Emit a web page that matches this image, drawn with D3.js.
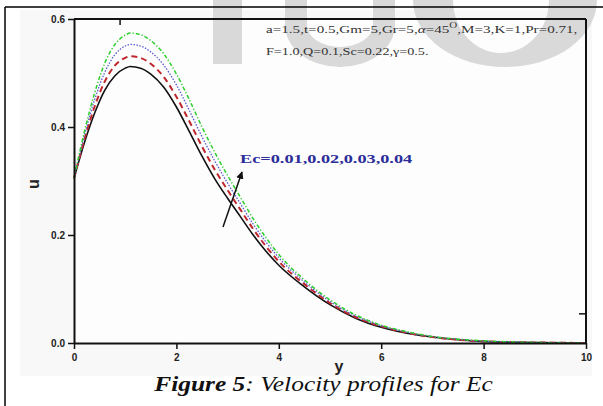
<!DOCTYPE html>
<html>
<head>
<meta charset="utf-8">
<script src="https://cdn.jsdelivr.net/npm/d3@7"></script>
<style>
  body{margin:0;background:#fff;}
  svg{display:block;}
</style>
</head>
<body>
<svg id="chart" width="603" height="406"></svg>
<script>
// values
const yPts=[0,0.2,0.4,0.6,0.8,1.0,1.1,1.3,1.5,1.75,2.0,2.25,2.5,2.75,3.0,3.25,3.5,3.75,4.0,4.5,5.0,5.5,6.0,6.5,7.0,7.5,8.0,9.0,10];
const uEc001=[0.305,0.370,0.425,0.468,0.495,0.509,0.512,0.509,0.498,0.474,0.437,0.392,0.346,0.304,0.268,0.234,0.200,0.170,0.144,0.104,0.071,0.046,0.029,0.018,0.011,0.006,0.003,0.001,0.000];
const uEc002=[0.305,0.376,0.437,0.484,0.514,0.528,0.531,0.528,0.517,0.493,0.456,0.411,0.364,0.321,0.283,0.247,0.211,0.179,0.151,0.109,0.074,0.048,0.031,0.019,0.011,0.006,0.003,0.001,0.000];
const uEc003=[0.305,0.383,0.450,0.501,0.534,0.550,0.553,0.550,0.539,0.515,0.478,0.431,0.382,0.337,0.296,0.258,0.220,0.187,0.158,0.113,0.077,0.050,0.032,0.020,0.012,0.007,0.003,0.001,0.000];
const uEc004=[0.305,0.390,0.462,0.518,0.553,0.570,0.574,0.571,0.560,0.536,0.498,0.451,0.400,0.353,0.310,0.270,0.230,0.195,0.164,0.117,0.080,0.052,0.033,0.021,0.012,0.007,0.004,0.001,0.000];
const xTicks=[0,2,4,6,8,10];
const yTicks=[0.0,0.2,0.4,0.6];

const series=[
  {vals:uEc001,color:"#111",width:1.6,dash:null},
  {vals:uEc002,color:"#c0272d",width:2,dash:"6,4"},
  {vals:uEc003,color:"#5b5bd0",width:1.3,dash:"1.5,1.5"},
  {vals:uEc004,color:"#2ccf2c",width:1.5,dash:"4,2,1.2,2"}
];

const svg=d3.select("#chart");
const x=d3.scaleLinear().domain([0,10]).range([74,586]);
const y=d3.scaleLinear().domain([0,0.6]).range([343,19]);

// stretch a text element to span a given width
function fitText(t,x0,w){
  const bb=t.node().getBBox();
  t.attr("transform",`translate(${x0},0) scale(${w/bb.width},1) translate(${-bb.x},0)`);
}

// faint page behind the figure
svg.append("rect").attr("x",20).attr("y",10).attr("width",572).attr("height",366).attr("fill","#f8f8f8");
svg.append("rect").attr("x",x(0)).attr("y",y(0.6)).attr("width",x(10)-x(0)).attr("height",y(0)-y(0.6)).attr("fill","#fdfdfd");

// watermark
const wm=svg.append("g").attr("fill","#d9d9d9");
wm.append("rect").attr("x",213).attr("y",0).attr("width",29).attr("height",64);
wm.append("path").attr("d","M285,0 V25 A55,42 0 0 0 395,25 V0 H373 V25 A33,22 0 0 1 307,25 V0 Z");
wm.append("path").attr("fill-rule","evenodd")
  .attr("d","M413,0 A92,67 0 0 0 597,0 Z M453,0 A48,53 0 0 0 549,0 Z");

// curves
const line=d3.line().x((d,i)=>x(yPts[i])).y(d=>y(d)).curve(d3.curveMonotoneX);
series.forEach(s=>{
  svg.append("path").datum(s.vals).attr("d",line).attr("fill","none")
    .attr("stroke",s.color).attr("stroke-width",s.width)
    .attr("stroke-dasharray",s.dash);
});

// axes
const font="'Liberation Sans', Arial, sans-serif";
const gx=svg.append("g").attr("transform",`translate(0,${y(0)})`)
  .call(d3.axisBottom(x).tickValues(xTicks).tickSize(6).tickSizeOuter(0).tickFormat(d3.format("d")));
const gy=svg.append("g").attr("transform",`translate(${x(0)},0)`)
  .call(d3.axisLeft(y).tickValues(yTicks).tickSize(6).tickSizeOuter(0).tickFormat(d3.format(".1f")));
[gx,gy].forEach(g=>{
  g.select(".domain").attr("stroke","#111").attr("stroke-width",2);
  g.selectAll(".tick line").attr("stroke","#111").attr("stroke-width",1.5);
  g.selectAll(".tick text").attr("font-family",font).attr("font-weight","bold")
    .attr("font-size",10).attr("fill","#222");
});
gx.selectAll(".tick text").attr("dy","0.85em");
svg.append("line").attr("x1",x(0)).attr("y1",y(0.6)).attr("x2",x(10)).attr("y2",y(0.6)).attr("stroke","#111").attr("stroke-width",2);
svg.append("line").attr("x1",x(10)).attr("y1",y(0.6)).attr("x2",x(10)).attr("y2",y(0)).attr("stroke","#111").attr("stroke-width",2);
// stray ticks on top and right
svg.append("line").attr("x1",x(0.9)).attr("y1",y(0.6)).attr("x2",x(0.9)).attr("y2",y(0.6)+6).attr("stroke","#111").attr("stroke-width",1.5);
svg.append("line").attr("x1",x(10)).attr("y1",y(0.054)).attr("x2",x(10)-7).attr("y2",y(0.054)).attr("stroke","#111").attr("stroke-width",1.5);

// axis titles
svg.append("text").attr("x",339).attr("y",372).attr("text-anchor","middle")
  .attr("font-family",font).attr("font-weight","bold").attr("font-size",16).attr("fill","#222").text("y");
svg.append("text").attr("transform","translate(39,184) rotate(-90)").attr("text-anchor","middle")
  .attr("font-family",font).attr("font-weight","bold").attr("font-size",16).attr("fill","#222").text("u");

// parameters
const serif="'Liberation Serif', 'Times New Roman', serif";
const p1=svg.append("text").attr("y",33).attr("font-family",serif).attr("font-size",11).attr("fill","#333");
p1.append("tspan").text("a=1.5,t=0.5,Gm=5,Gr=5,");
p1.append("tspan").attr("font-style","italic").text("α");
p1.append("tspan").text("=45");
p1.append("tspan").attr("dy",-5).attr("font-size",8).text("O");
p1.append("tspan").attr("dy",5).text(",M=3,K=1,Pr=0.71,");
fitText(p1,266,312);
const p2=svg.append("text").attr("y",55).attr("font-family",serif).attr("font-size",11).attr("fill","#333")
  .text("F=1.0,Q=0.1,Sc=0.22,γ=0.5.");
fitText(p2,266,163);

// Ec label and arrow
const ec=svg.append("text").attr("y",163).attr("font-family",serif).attr("font-weight","bold")
  .attr("font-size",13).attr("fill","#2d2d9a").text("Ec=0.01,0.02,0.03,0.04");
fitText(ec,240,173);
svg.append("defs").append("marker").attr("id","ah").attr("viewBox","0 0 10 10")
  .attr("refX",9).attr("refY",5).attr("markerWidth",5).attr("markerHeight",5).attr("orient","auto")
  .append("path").attr("d","M0,0 L10,5 L0,10 z").attr("fill","#111");
svg.append("line").attr("x1",223).attr("y1",227).attr("x2",242).attr("y2",172)
  .attr("stroke","#111").attr("stroke-width",1.5).attr("marker-end","url(#ah)");

// caption
const cap=svg.append("text").attr("y",391).attr("font-family",serif).attr("font-size",20)
  .attr("font-style","italic").attr("fill","#111");
cap.append("tspan").attr("font-weight","bold").text("Figure 5");
cap.append("tspan").text(": Velocity profiles for  Ec");
fitText(cap,153,340);

// page frame lines (on top)
svg.append("line").attr("x1",5).attr("y1",7).attr("x2",603).attr("y2",7).attr("stroke","#000").attr("stroke-width",1.5);
svg.append("line").attr("x1",5).attr("y1",7).attr("x2",5).attr("y2",406).attr("stroke","#000").attr("stroke-width",1.5);
</script>
</body>
</html>
